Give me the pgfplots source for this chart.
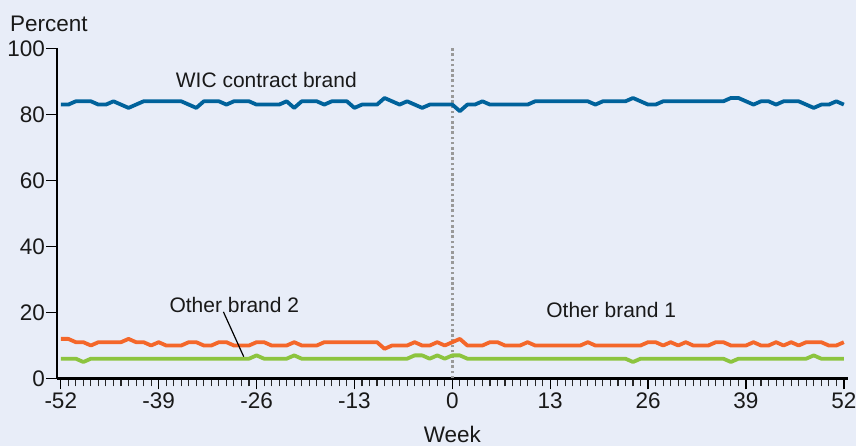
\documentclass[border=0pt]{standalone}
\usepackage{fontspec}
\setmainfont{Liberation Sans}
\usepackage{pgfplots}
\pgfplotsset{compat=1.18}
\usepackage{pgfplotstable}
\definecolor{bgc}{RGB}{232,237,248}
\definecolor{wicblue}{RGB}{0,98,155}
\definecolor{obor}{RGB}{244,103,42}
\definecolor{obgr}{RGB}{140,196,63}
\newcommand\fa{\fontsize{22.5}{26}\selectfont}
\newcommand\fb{\fontsize{21}{25}\selectfont}

\pgfplotstableread{
w wic ob1 ob2
-52 83 12 6
-51 83 12 6
-50 84 11 6
-49 84 11 5
-48 84 10 6
-47 83 11 6
-46 83 11 6
-45 84 11 6
-44 83 11 6
-43 82 12 6
-42 83 11 6
-41 84 11 6
-40 84 10 6
-39 84 11 6
-38 84 10 6
-37 84 10 6
-36 84 10 6
-35 83 11 6
-34 82 11 6
-33 84 10 6
-32 84 10 6
-31 84 11 6
-30 83 11 6
-29 84 10 6
-28 84 10 6
-27 84 10 6
-26 83 11 7
-25 83 11 6
-24 83 10 6
-23 83 10 6
-22 84 10 6
-21 82 11 7
-20 84 10 6
-19 84 10 6
-18 84 10 6
-17 83 11 6
-16 84 11 6
-15 84 11 6
-14 84 11 6
-13 82 11 6
-12 83 11 6
-11 83 11 6
-10 83 11 6
-9 85 9 6
-8 84 10 6
-7 83 10 6
-6 84 10 6
-5 83 11 7
-4 82 10 7
-3 83 10 6
-2 83 11 7
-1 83 10 6
0 83 11 7
1 81 12 7
2 83 10 6
3 83 10 6
4 84 10 6
5 83 11 6
6 83 11 6
7 83 10 6
8 83 10 6
9 83 10 6
10 83 11 6
11 84 10 6
12 84 10 6
13 84 10 6
14 84 10 6
15 84 10 6
16 84 10 6
17 84 10 6
18 84 11 6
19 83 10 6
20 84 10 6
21 84 10 6
22 84 10 6
23 84 10 6
24 85 10 5
25 84 10 6
26 83 11 6
27 83 11 6
28 84 10 6
29 84 11 6
30 84 10 6
31 84 11 6
32 84 10 6
33 84 10 6
34 84 10 6
35 84 11 6
36 84 11 6
37 85 10 5
38 85 10 6
39 84 10 6
40 83 11 6
41 84 10 6
42 84 10 6
43 83 11 6
44 84 10 6
45 84 11 6
46 84 10 6
47 83 11 6
48 82 11 7
49 83 11 6
50 83 10 6
51 84 10 6
52 83 11 6
}\datatab

\begin{document}
\begin{tikzpicture}
\fill[bgc] (-57pt,-67.5pt) rectangle (799pt,378.5pt);
\begin{axis}[
  at={(0,0)}, anchor=south west,
  scale only axis, width=790.6pt, height=330pt,
  xmin=-52.5, xmax=52.5, ymin=0, ymax=100,
  axis lines=left,
  axis line style={line width=2.2pt, -},
  xtick={-52,-39,-26,-13,0,13,26,39,52},
  xticklabels={-52,-39,-26,-13,0,13,26,39,52},
  minor xtick={-52,-51,...,52},
  ytick={0,20,40,60,80,100},
  yticklabels={0,20,40,60,80,100},
  tick align=outside,
  major tick length=11pt, minor tick length=8pt,
  major tick style={black, line width=1.3pt},
  minor tick style={black!85, line width=1.1pt},
  tick label style={font=\fa, text=black!90},
  yticklabel style={inner xsep=1pt},
  clip=false,
]
\draw[gray!80, line width=2.4pt, dash pattern=on 2.6pt off 2.6pt] (axis cs:0,0) -- (axis cs:0,100);
\addplot[wicblue, line width=3.8pt, line join=round] table[x=w, y=wic] {\datatab};
\addplot[obor, line width=3.8pt, line join=round] table[x=w, y=ob1] {\datatab};
\addplot[obgr, line width=3.8pt, line join=round] table[x=w, y=ob2] {\datatab};
\node[font=\fb, text=black!90] at (axis cs:-24.7,90.5) {WIC contract brand};
\node[font=\fb, text=black!90] at (axis cs:-28.95,22.3) {Other brand 2};
\node[font=\fb, text=black!90] at (axis cs:21.1,20.9) {Other brand 1};
\draw[black, line width=1.2pt] (axis cs:-30.4,20.2) -- (axis cs:-27.7,6.6);
\node[font=\fa, text=black!90, anchor=base] at ([yshift=-64pt]axis cs:0,0) {Week};
\end{axis}
\node[font=\fa, text=black!90, anchor=base west, inner sep=0pt] at (-47pt,346.5pt) {Percent};
\pgfresetboundingbox
\path[use as bounding box] (-57pt,-67.5pt) rectangle (799pt,378.5pt);
\end{tikzpicture}
\end{document}
